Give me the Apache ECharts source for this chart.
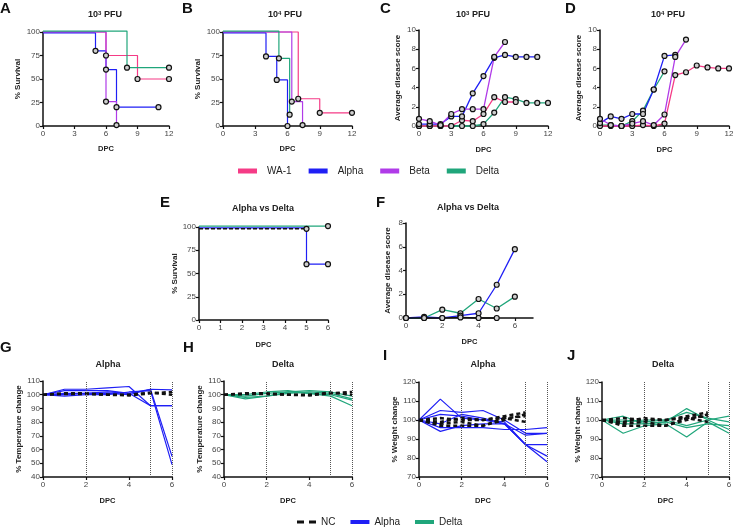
<!DOCTYPE html>
<html>
<head>
<meta charset="utf-8">
<script src="https://cdn.jsdelivr.net/npm/echarts@6/dist/echarts.min.js"></script>
<style>html,body{margin:0;padding:0;background:#fff}#main{width:733px;height:527px}</style>
</head>
<body>
<div id="main"></div>
<script>
// colours
var cWA1 = '#f53b86', cAlpha = '#1f1ff5', cBeta = '#b03be8', cDelta = '#20a67b', cNC = '#111111';

// survival curves, KM steps [DPC, % survival]
var survA_wa1 = [[0, 100], [6, 75], [9, 50], [12, 50]];
var survA_alpha = [[0, 99], [5, 80], [6, 60], [7, 20], [11, 20]];
var survA_beta = [[0, 100], [6, 26], [7, 1]];
var survA_delta = [[0, 101], [8, 62], [12, 62]];
var survB_wa1 = [[0, 100], [7, 29], [9, 14], [12, 14]];
var survB_alpha = [[0, 99], [4, 74], [5, 49], [6, 0]];
var survB_beta = [[0, 100], [6.4, 26], [7.4, 1]];
var survB_delta = [[0, 101], [5.2, 72], [6.2, 12]];
var survE_nc = [[0, 98], [5, 98]];
var survE_alpha = [[0, 99], [5, 60], [6, 60]];
var survE_delta = [[0, 101], [6, 101]];

// average disease score, one value per DPC from 0
var scoreC_wa1 = [0, 0, 0, 0, 0.6, 0.5, 1.25, 3.0, 2.5, 2.5];
var scoreC_alpha = [0.2, 0.2, 0.2, 1.0, 1.0, 3.4, 5.2, 7.1, 7.4, 7.2, 7.2, 7.2];
var scoreC_beta = [0.75, 0.5, 0.1, 1.25, 1.75, 1.75, 1.75, 7.2, 8.75];
var scoreC_delta = [0, 0, 0, 0, 0, 0, 0.2, 1.4, 3.0, 2.8, 2.4, 2.4, 2.4];
var scoreD_wa1 = [0, 0, 0, 0, 0.1, 0, 0.25, 5.3, 5.6, 6.3, 6.1, 6.0, 6.0];
var scoreD_alpha = [0.3, 1.0, 0.75, 1.25, 1.25, 3.8, 7.3, 7.4];
var scoreD_beta = [0.75, 0.1, 0, 0.25, 0.5, 0.1, 1.2, 7.2, 9.0];
var scoreD_delta = [0.1, 0.1, 0, 0.5, 1.6, 3.8, 5.7];
var scoreF_nc = [0, 0, 0, 0.05, 0, 0];
var scoreF_alpha = [0, 0.1, 0, 0.2, 0.4, 2.8, 5.8];
var scoreF_delta = [0, 0, 0.7, 0.4, 1.6, 0.8, 1.8];

// % temperature per animal, DPC 0..6
var tempG_alpha = [
    [100, 104, 104, 105, 106, 92, 92],
    [100, 103, 103, 103, 101, 104, 103.5],
    [100, 100, 101, 101, 100, 104, 55],
    [100, 99, 100, 100, 102, 103, 49],
    [100, 101, 101, 102, 101, 92, 92]
];
var tempH_delta = [
    [100, 98, 99, 102, 103, 102, 99],
    [100, 97, 99, 101, 102, 101, 97],
    [100, 99, 101, 102, 101, 100, 96],
    [100, 100, 102, 103, 101, 99, 92]
];
var temp_nc = [
    [100, 101, 101, 100, 99.5, 101, 102],
    [100, 100.5, 100.5, 100, 100, 101.5, 100]
];

// % weight per animal, DPC 0..6
var weightI_alpha = [
    [100, 111, 101, 100, 99, 87, 87],
    [100, 105, 104, 105, 100, 93, 93],
    [100, 103, 102, 100, 98, 87, 81],
    [100, 96, 96, 96, 95, 95, 96],
    [100, 94, 97, 98, 98, 87, 78],
    [100, 98, 103, 101, 98, 92, 93]
];
var weightJ_delta = [
    [100, 102, 98, 99, 106, 100, 102],
    [100, 93, 97, 98, 91, 99, 93],
    [100, 100, 99, 100, 104, 101, 99],
    [100, 98, 98, 99, 96, 98, 97],
    [100, 99, 100, 100, 97, 100, 95]
];
var weight_nc = [
    [100, 98, 99, 97, 100, 103],
    [100, 101, 100, 100, 102, 104],
    [100, 97, 97, 97, 101, 99],
    [100, 99, 101, 100, 101, 102]
];

var dpcLines = [2, 5, 6];
var font = '"Liberation Sans", Arial, sans-serif';

var chart = echarts.init(document.getElementById('main'));

// panel grids A..J
var grids = [
    { left: 43, top: 32, width: 126, height: 94 },
    { left: 223, top: 32, width: 129, height: 94 },
    { left: 419, top: 30, width: 129, height: 96 },
    { left: 600, top: 30, width: 129, height: 96 },
    { left: 199, top: 227, width: 129, height: 93 },
    { left: 406, top: 223, width: 127, height: 95 },
    { left: 43, top: 381, width: 129, height: 96 },
    { left: 224, top: 381, width: 128, height: 96 },
    { left: 419, top: 382, width: 128, height: 95 },
    { left: 602, top: 382, width: 127, height: 95 }
];
grids.forEach(function (g) { g.outerBoundsMode = 'none'; });

function xAx(gi, max, interval, gap) {
    return {
        type: 'value', gridIndex: gi, min: 0, max: max, interval: interval,
        name: 'DPC', nameLocation: 'middle', nameGap: gap,
        nameTextStyle: { fontSize: 7.5, fontWeight: 'bold', color: '#222' },
        axisLine: { onZero: false, lineStyle: { color: '#111', width: 1.5 } },
        axisTick: { length: 3, lineStyle: { width: 1.2 } },
        axisLabel: { fontSize: 8, color: '#444', margin: 4 },
        splitLine: { show: false }
    };
}
function yAx(gi, min, max, interval, name, gap) {
    return {
        type: 'value', gridIndex: gi, min: min, max: max, interval: interval,
        name: name, nameLocation: 'middle', nameRotate: 90, nameGap: gap,
        nameTextStyle: { fontSize: 8, fontWeight: 'bold', color: '#222' },
        axisLine: { onZero: false, lineStyle: { color: '#111', width: 1.5 } },
        axisTick: { show: true, length: 3, lineStyle: { width: 1.2 } },
        axisLabel: { fontSize: 8, color: '#444', margin: 3 },
        splitLine: { show: false }
    };
}

var xAxes = [
    xAx(0, 12, 3, 19), xAx(1, 12, 3, 19), xAx(2, 12, 3, 20), xAx(3, 12, 3, 20),
    xAx(4, 6, 1, 21), xAx(5, 7, 2, 20),
    xAx(6, 6, 2, 20), xAx(7, 6, 2, 20), xAx(8, 6, 2, 20), xAx(9, 6, 2, 20)
];
xAxes[5].axisLabel.customValues = [0, 2, 4, 6];
xAxes[5].axisTick.customValues = [0, 2, 4, 6];

var yAxes = [
    yAx(0, 0, 100, 25, '% Survival', 21), yAx(1, 0, 100, 25, '% Survival', 21),
    yAx(2, 0, 10, 2, 'Average disease score', 17), yAx(3, 0, 10, 2, 'Average disease score', 17),
    yAx(4, 0, 100, 25, '% Survival', 19), yAx(5, 0, 8, 2, 'Average disease score', 14),
    yAx(6, 40, 110, 10, '% Temperature change', 18), yAx(7, 40, 110, 10, '% Temperature change', 18),
    yAx(8, 70, 120, 10, '% Weight change', 20), yAx(9, 70, 120, 10, '% Weight change', 20)
];

var markerStyle = { color: '#cfcfcf', borderColor: '#111', borderWidth: 1.2 };

function kmSeries(name, color, pts, gi, dashed) {
    return {
        type: 'line', name: name, xAxisIndex: gi, yAxisIndex: gi, step: 'end', clip: false,
        data: pts.map(function (p, i) { return i === 0 ? { value: p, symbol: 'none' } : { value: p }; }),
        symbol: 'circle', symbolSize: 5,
        lineStyle: { color: color, width: dashed ? 1.5 : 1.2, type: dashed ? [4, 2] : 'solid' },
        itemStyle: markerStyle
    };
}
function scoreSeries(name, color, vals, gi) {
    return {
        type: 'line', name: name, xAxisIndex: gi, yAxisIndex: gi, clip: false,
        data: vals.map(function (v, i) { return [i, v]; }),
        symbol: 'circle', symbolSize: 5,
        lineStyle: { color: color, width: 1.3 },
        itemStyle: markerStyle
    };
}
function animalSeries(name, color, rows, gi, dashed) {
    return rows.map(function (vals) {
        return {
            type: 'line', name: name, xAxisIndex: gi, yAxisIndex: gi, clip: false,
            data: vals.map(function (v, i) { return [i, v]; }),
            symbol: 'none', z: dashed ? 4 : 2,
            lineStyle: { color: color, width: dashed ? 2.5 : 1.2, type: dashed ? [4, 3] : 'solid' },
            itemStyle: { color: color }
        };
    });
}
function dottedDays(gi) {
    return {
        type: 'line', xAxisIndex: gi, yAxisIndex: gi, data: [], silent: true,
        markLine: {
            silent: true, symbol: 'none', label: { show: false }, animation: false,
            lineStyle: { type: 'dotted', color: '#555', width: 1 },
            data: dpcLines.map(function (d) { return { xAxis: d }; })
        }
    };
}

var series = [
    kmSeries('WA-1', cWA1, survA_wa1, 0), kmSeries('Alpha', cAlpha, survA_alpha, 0),
    kmSeries('Beta', cBeta, survA_beta, 0), kmSeries('Delta', cDelta, survA_delta, 0),
    kmSeries('WA-1', cWA1, survB_wa1, 1), kmSeries('Alpha', cAlpha, survB_alpha, 1),
    kmSeries('Beta', cBeta, survB_beta, 1), kmSeries('Delta', cDelta, survB_delta, 1),
    scoreSeries('Delta', cDelta, scoreC_delta, 2), scoreSeries('WA-1', cWA1, scoreC_wa1, 2),
    scoreSeries('Alpha', cAlpha, scoreC_alpha, 2), scoreSeries('Beta', cBeta, scoreC_beta, 2),
    scoreSeries('Delta', cDelta, scoreD_delta, 3), scoreSeries('WA-1', cWA1, scoreD_wa1, 3),
    scoreSeries('Alpha', cAlpha, scoreD_alpha, 3), scoreSeries('Beta', cBeta, scoreD_beta, 3),
    kmSeries('Alpha', cAlpha, survE_alpha, 4), kmSeries('Delta', cDelta, survE_delta, 4),
    kmSeries('NC', cNC, survE_nc, 4, true),
    scoreSeries('Delta', cDelta, scoreF_delta, 5), scoreSeries('Alpha', cAlpha, scoreF_alpha, 5),
    scoreSeries('NC', cNC, scoreF_nc, 5),
    dottedDays(6), dottedDays(7), dottedDays(8), dottedDays(9)
];
series = series
    .concat(animalSeries('Alpha', cAlpha, tempG_alpha, 6))
    .concat(animalSeries('NC', cNC, temp_nc, 6, true))
    .concat(animalSeries('Delta', cDelta, tempH_delta, 7))
    .concat(animalSeries('NC', cNC, temp_nc, 7, true))
    .concat(animalSeries('Alpha', cAlpha, weightI_alpha, 8))
    .concat(animalSeries('NC', cNC, weight_nc, 8, true))
    .concat(animalSeries('Delta', cDelta, weightJ_delta, 9))
    .concat(animalSeries('NC', cNC, weight_nc, 9, true));

// panel letters and titles
function letter(t, x, y) {
    return { type: 'text', x: x, y: y, style: { text: t, fontFamily: font, fontSize: 15, fontWeight: 'bold', fill: '#111', align: 'left', verticalAlign: 'middle' } };
}
function title(t, x, y) {
    return {
        type: 'text', x: x, y: y,
        style: {
            text: t, fontFamily: font, fontSize: 9, fontWeight: 'bold', fill: '#222', align: 'center', verticalAlign: 'middle',
            rich: { sup: { fontSize: 6, fontWeight: 'bold', fontFamily: font, verticalAlign: 'top', padding: [0, 0, 3, 0] } }
        }
    };
}

var option = {
    animation: false,
    textStyle: { fontFamily: font },
    grid: grids,
    xAxis: xAxes,
    yAxis: yAxes,
    series: series,
    legend: [
        {
            data: [
                { name: 'WA-1', itemStyle: { color: cWA1 } },
                { name: 'Alpha', itemStyle: { color: cAlpha } },
                { name: 'Beta', itemStyle: { color: cBeta } },
                { name: 'Delta', itemStyle: { color: cDelta } }
            ],
            left: 233, top: 161, icon: 'rect', itemWidth: 19, itemHeight: 5, itemGap: 17, selectedMode: false,
            itemStyle: { borderWidth: 0 },
            textStyle: { fontSize: 10, color: '#222', padding: [0, 0, 0, 5] }
        },
        {
            data: [
                { name: 'NC', icon: 'path://M0,0h7v3h-7z M12,0h7v3h-7z', itemStyle: { color: cNC } },
                { name: 'Alpha', itemStyle: { color: cAlpha } },
                { name: 'Delta', itemStyle: { color: cDelta } }
            ],
            left: 292, top: 512, icon: 'rect', itemWidth: 19, itemHeight: 4, itemGap: 15, selectedMode: false,
            itemStyle: { borderWidth: 0 },
            textStyle: { fontSize: 10, color: '#222' }
        }
    ],
    graphic: [
        letter('A', 0, 9), letter('B', 182, 9), letter('C', 380, 9), letter('D', 565, 9),
        letter('E', 160, 203), letter('F', 376, 203),
        letter('G', 0, 348), letter('H', 183, 348), letter('I', 383, 356), letter('J', 567, 356),
        title('10{sup|3} PFU', 105, 15), title('10{sup|4} PFU', 285, 15),
        title('10{sup|3} PFU', 473, 15), title('10{sup|4} PFU', 668, 15),
        title('Alpha vs Delta', 263, 209), title('Alpha vs Delta', 468, 208),
        title('Alpha', 108, 365), title('Delta', 283, 365),
        title('Alpha', 483, 365), title('Delta', 663, 365)
    ]
};

chart.setOption(option);
</script>
</body>
</html>
